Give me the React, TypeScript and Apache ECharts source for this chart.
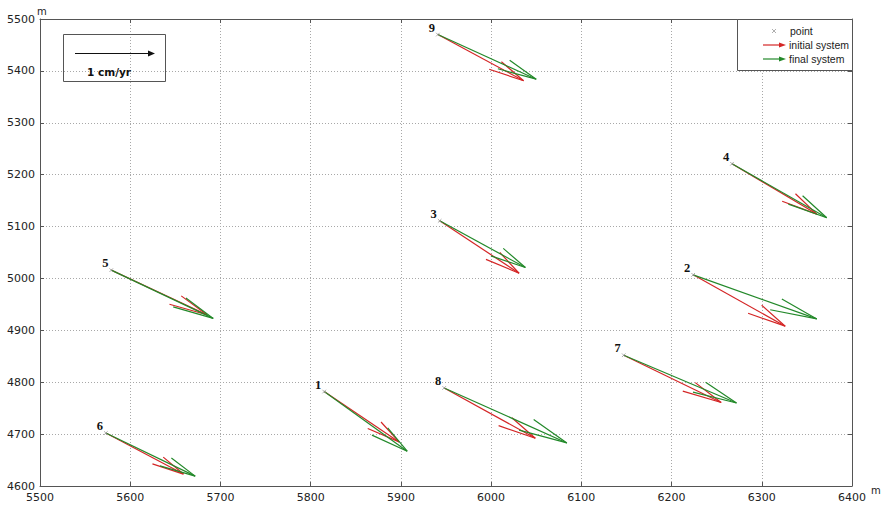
import React, { useEffect, useRef } from 'react';
import * as echarts from 'echarts';

// ---- data (metres) ----
const stationIds = ['1', '2', '3', '4', '5', '6', '7', '8', '9'];
const stationX = [5815, 6224, 5943, 6267, 5579, 5573, 6147, 5948, 5941];
const stationY = [4782, 5007, 5111, 5221, 5016, 4702, 4852, 4789, 5470];
const initialTipX = [5898, 6326, 6031, 6361, 5685, 5659, 6255, 6049, 6036];
const initialTipY = [4685, 4908, 5010, 5124, 4930, 4623, 4761, 4692, 5381];
const finalTipX = [5907, 6361, 6038, 6372, 5692, 5672, 6272, 6084, 6050];
const finalTipY = [4667, 4922, 5021, 5117, 4923, 4619, 4760, 4683, 5384];

const xMin = 5500;
const xMax = 6400;
const yMin = 4600;
const yMax = 5500;
const tickStep = 100;

const legendLabels = ['point', 'initial system', 'final system'];
const scaleLabel = '1 cm/yr';

const RED = '#d42626';
const GREEN = '#23892a';
const AXIS = '#555';
const ALPHA = 0.33;
const BETA = 0.23;

function arrowRenderer(color: string) {
  return (_params: any, api: any) => {
    const x0 = api.value(0), y0 = api.value(1), x1 = api.value(2), y1 = api.value(3);
    const u = x1 - x0, v = y1 - y0;
    const b1 = [x1 - ALPHA * (u + BETA * v), y1 - ALPHA * (v - BETA * u)];
    const b2 = [x1 - ALPHA * (u - BETA * v), y1 - ALPHA * (v + BETA * u)];
    const p0 = api.coord([x0, y0]);
    const p1 = api.coord([x1, y1]);
    const q1 = api.coord(b1);
    const q2 = api.coord(b2);
    return {
      type: 'group',
      children: [
        { type: 'polyline', shape: { points: [p0, p1] }, style: { stroke: color, lineWidth: 1.2, fill: null } },
        { type: 'polyline', shape: { points: [q1, p1, q2] }, style: { stroke: color, lineWidth: 1.2, fill: null } },
      ],
    };
  };
}

function pointRenderer(_params: any, api: any) {
  const p = api.coord([api.value(0), api.value(1)]);
  const s = 1.8;
  const idx = _params.dataIndex;
  return {
    type: 'group',
    children: [
      { type: 'line', shape: { x1: p[0] - s, y1: p[1] - s, x2: p[0] + s, y2: p[1] + s }, style: { stroke: '#999', lineWidth: 0.8 } },
      { type: 'line', shape: { x1: p[0] - s, y1: p[1] + s, x2: p[0] + s, y2: p[1] - s }, style: { stroke: '#999', lineWidth: 0.8 } },
      {
        type: 'text',
        x: p[0] - 6,
        y: p[1] - 7,
        style: {
          text: stationIds[idx],
          fill: '#111',
          font: 'bold 12.5px "Liberation Serif", "DejaVu Serif", serif',
          align: 'center',
          verticalAlign: 'middle',
        },
      },
    ],
  };
}

export default function App() {
  const ref = useRef<HTMLDivElement>(null);
  useEffect(() => {
    if (!ref.current) return;
    const chart = echarts.init(ref.current, undefined, { renderer: 'svg' });
    const initialData = stationIds.map((_, i) => [stationX[i], stationY[i], initialTipX[i], initialTipY[i]]);
    const finalData = stationIds.map((_, i) => [stationX[i], stationY[i], finalTipX[i], finalTipY[i]]);
    const pointData = stationIds.map((_, i) => [stationX[i], stationY[i]]);

    const labelStyle = {
      color: '#222', fontSize: 11, fontFamily: '"DejaVu Sans", sans-serif',
      formatter: (v: number) => String(v),
    };
    const tick = { show: true, inside: true, length: 4, lineStyle: { color: AXIS } };
    const line = { show: true, onZero: false, lineStyle: { color: AXIS, width: 1 } };
    const split = { show: true, lineStyle: { color: '#a8a8a8', type: [1, 2] as any, width: 1 } };

    const legendFont = '10.5px "Liberation Sans", Arial, sans-serif';
    const lx = 737, ly = 19, lw = 115, lh = 51;

    chart.setOption({
      animation: false,
      grid: { left: 40, right: 31, top: 19, bottom: 19 },
      xAxis: [
        {
          type: 'value', min: xMin, max: xMax, interval: tickStep, position: 'bottom',
          axisLine: line, axisTick: tick, splitLine: split,
          axisLabel: { ...labelStyle, margin: 6 },
        },
        {
          type: 'value', min: xMin, max: xMax, interval: tickStep, position: 'top',
          axisLine: line, axisTick: tick, splitLine: { show: false }, axisLabel: { show: false },
        },
      ],
      yAxis: [
        {
          type: 'value', min: yMin, max: yMax, interval: tickStep, position: 'left',
          axisLine: line, axisTick: tick, splitLine: split,
          axisLabel: { ...labelStyle, margin: 5 },
        },
        {
          type: 'value', min: yMin, max: yMax, interval: tickStep, position: 'right',
          axisLine: line, axisTick: tick, splitLine: { show: false }, axisLabel: { show: false },
        },
      ],
      series: [
        {
          type: 'custom', name: legendLabels[1], renderItem: arrowRenderer(RED),
          data: initialData, encode: { x: [0, 2], y: [1, 3] }, z: 3,
        },
        {
          type: 'custom', name: legendLabels[2], renderItem: arrowRenderer(GREEN),
          data: finalData, encode: { x: [0, 2], y: [1, 3] }, z: 4,
        },
        {
          type: 'custom', name: legendLabels[0], renderItem: pointRenderer,
          data: pointData, encode: { x: 0, y: 1 }, z: 5,
        },
      ],
      graphic: [
        { type: 'text', x: 37, y: 11, z: 100, style: { text: 'm', fill: '#222', font: '10px "DejaVu Sans", sans-serif', verticalAlign: 'middle' } },
        { type: 'text', x: 871, y: 490, z: 100, style: { text: 'm', fill: '#222', font: '10px "DejaVu Sans", sans-serif', verticalAlign: 'middle' } },
        // scale box
        { type: 'rect', z: 100, shape: { x: 63.5, y: 34.5, width: 102, height: 47 }, style: { fill: null, stroke: AXIS, lineWidth: 1 } },
        { type: 'line', z: 100, shape: { x1: 75, y1: 53.5, x2: 149, y2: 53.5 }, style: { stroke: '#111', lineWidth: 1 } },
        { type: 'polygon', z: 100, shape: { points: [[148, 50.5], [155, 53.5], [148, 56.5]] }, style: { fill: '#111' } },
        { type: 'text', z: 100, x: 109, y: 72, style: { text: scaleLabel, fill: '#111', font: 'bold 10.5px "DejaVu Sans", sans-serif', align: 'center', verticalAlign: 'middle' } },
        // legend
        { type: 'rect', z: 100, shape: { x: lx + 0.5, y: ly + 0.5, width: lw, height: lh }, style: { fill: '#fff', stroke: AXIS, lineWidth: 1 } },
        { type: 'line', z: 101, shape: { x1: 772, y1: 29, x2: 776, y2: 33 }, style: { stroke: '#999', lineWidth: 0.8 } },
        { type: 'line', z: 101, shape: { x1: 772, y1: 33, x2: 776, y2: 29 }, style: { stroke: '#999', lineWidth: 0.8 } },
        { type: 'text', z: 101, x: 790, y: 31, style: { text: legendLabels[0], fill: '#222', font: legendFont, verticalAlign: 'middle' } },
        { type: 'line', z: 101, shape: { x1: 763, y1: 45, x2: 780, y2: 45 }, style: { stroke: RED, lineWidth: 1.2 } },
        { type: 'polygon', z: 101, shape: { points: [[779, 42.5], [786, 45], [779, 47.5]] }, style: { fill: RED } },
        { type: 'text', z: 101, x: 789, y: 45, style: { text: legendLabels[1], fill: '#222', font: legendFont, verticalAlign: 'middle' } },
        { type: 'line', z: 101, shape: { x1: 763, y1: 59, x2: 780, y2: 59 }, style: { stroke: GREEN, lineWidth: 1.2 } },
        { type: 'polygon', z: 101, shape: { points: [[779, 56.5], [786, 59], [779, 61.5]] }, style: { fill: GREEN } },
        { type: 'text', z: 101, x: 789, y: 59, style: { text: legendLabels[2], fill: '#222', font: legendFont, verticalAlign: 'middle' } },
      ],
    });
    return () => chart.dispose();
  }, []);
  return <div ref={ref} style={{ position: 'fixed', left: 0, top: 0, width: 883, height: 505, background: '#fff' }} />;
}
